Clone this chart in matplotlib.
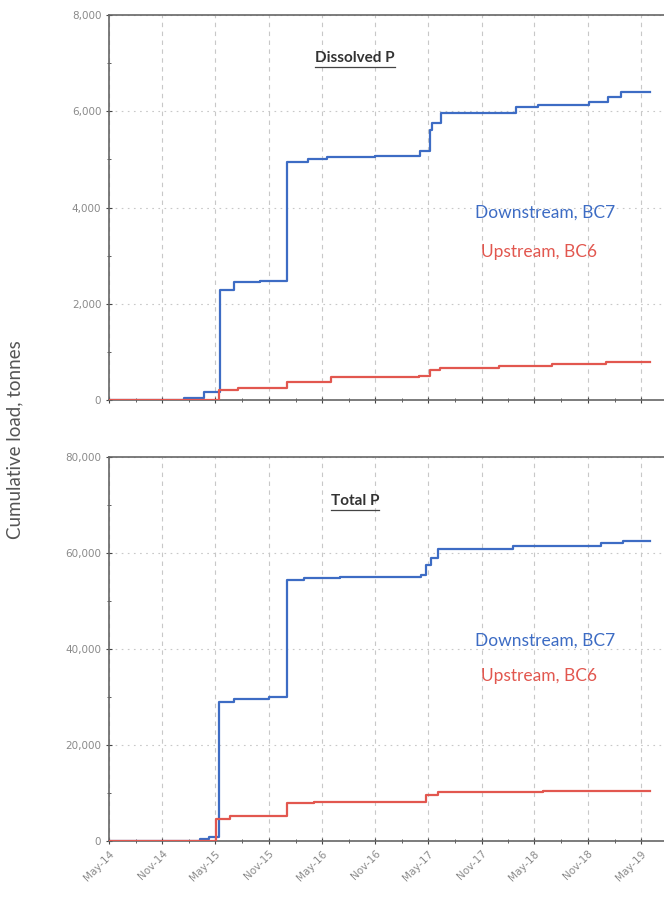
import matplotlib
matplotlib.use('Agg')
import matplotlib.pyplot as plt
import matplotlib.dates as mdates
from matplotlib.ticker import FuncFormatter, MultipleLocator
import numpy as np
import pandas as pd

# ---------- 累积负荷数据（吨） ----------
dp_down_dates = ['2014-05-01', '2015-01-15', '2015-03-22', '2015-05-16', '2015-07-05',
                 '2015-10-01', '2016-01-04', '2016-03-16', '2016-05-19', '2016-11-01',
                 '2017-04-02', '2017-05-06', '2017-05-15', '2017-06-16', '2018-02-27',
                 '2018-05-15', '2018-11-03', '2019-01-10', '2019-02-21', '2019-06-01']
dp_down_vals = [0, 40, 170, 2290, 2450, 2480, 4950, 5000, 5050, 5080,
                5170, 5610, 5750, 5960, 6090, 6130, 6200, 6300, 6400, 6400]

dp_up_dates = ['2014-05-01', '2015-05-13', '2015-07-18', '2016-01-04', '2016-06-01',
               '2017-04-01', '2017-05-06', '2017-06-10', '2018-01-01', '2018-07-01',
               '2019-01-01', '2019-06-01']
dp_up_vals = [0, 210, 250, 375, 480, 500, 620, 665, 700, 740, 790, 790]

tp_down_dates = ['2014-05-01', '2015-03-10', '2015-04-10', '2015-05-13', '2015-07-05',
                 '2015-11-01', '2016-01-04', '2016-03-01', '2016-07-01', '2017-04-05',
                 '2017-04-25', '2017-05-10', '2017-06-03', '2018-02-15', '2018-12-16',
                 '2019-03-01', '2019-06-01']
tp_down_vals = [0, 500, 800, 29000, 29500, 30000, 54300, 54700, 55000, 55500,
                57500, 59000, 60800, 61400, 62000, 62500, 62500]

tp_up_dates = ['2014-05-01', '2015-05-04', '2015-06-20', '2016-01-04', '2016-04-03',
               '2017-04-25', '2017-06-03', '2018-06-01', '2019-06-01']
tp_up_vals = [0, 4600, 5200, 7900, 8100, 9600, 10200, 10500, 10500]

panel_titles = ['Dissolved P', 'Total P']
series_labels = ['Downstream, BC7', 'Upstream, BC6']
y_max = [8000, 80000]

BLUE = '#3d6cc4'
RED = '#e2574f'
GRID = '#c8c8c8'
TXT = '#8a8a8a'

fig = plt.figure(figsize=(6.64, 9.15), dpi=100)
ax_top = fig.add_axes([0.164, 0.5628, 0.836, 0.4208])
ax_bot = fig.add_axes([0.164, 0.0809, 0.836, 0.4197])

panels = [
    (ax_top, dp_down_dates, dp_down_vals, dp_up_dates, dp_up_vals, 0.486, 0.384),
    (ax_bot, tp_down_dates, tp_down_vals, tp_up_dates, tp_up_vals, 0.523, 0.430),
]

for i, (ax, dd, dv, ud, uv, ly1, ly2) in enumerate(panels):
    ax.step(pd.to_datetime(dd), dv, where='post', color=BLUE, lw=1.6, zorder=3)
    ax.step(pd.to_datetime(ud), uv, where='post', color=RED, lw=1.6, zorder=4)

    ax.set_xlim(pd.Timestamp('2014-05-01'), pd.Timestamp('2019-07-20'))
    ax.set_ylim(0, y_max[i])
    ax.yaxis.set_major_locator(MultipleLocator(y_max[i] / 4))
    ax.yaxis.set_minor_locator(MultipleLocator(y_max[i] / 8))
    ax.yaxis.set_major_formatter(FuncFormatter(lambda v, p: f'{v:,.0f}'))

    ax.xaxis.set_major_locator(mdates.MonthLocator(bymonth=[5, 11]))
    ax.xaxis.set_minor_locator(mdates.MonthLocator(bymonth=[2, 8]))
    ax.xaxis.set_major_formatter(mdates.DateFormatter('%b-%y'))

    ax.grid(True, which='major', axis='x', color=GRID, ls=(0, (4, 4)), lw=0.8)
    ax.grid(True, which='major', axis='y', color=GRID, ls=(0, (1.5, 4)), lw=0.8)

    ax.tick_params(which='both', direction='inout', color='#444', labelcolor=TXT,
                   labelsize=7.5)
    ax.tick_params(which='major', length=4)
    ax.tick_params(which='minor', length=3)

    for side in ['left', 'bottom', 'top']:
        ax.spines[side].set_color('#666')
        ax.spines[side].set_linewidth(1.2)
    ax.spines['right'].set_visible(False)

    # 系列标签
    ax.text(0.66, ly1, series_labels[0], transform=ax.transAxes, color=BLUE,
            fontsize=12.5, family='Lato', ha='left', va='center')
    ax.text(0.67, ly2, series_labels[1], transform=ax.transAxes, color=RED,
            fontsize=12.5, family='Lato', ha='left', va='center')

ax_top.tick_params(axis='x', labelbottom=False)
for lab in ax_bot.get_xticklabels():
    lab.set_rotation(45)
    lab.set_ha('right')
    lab.set_rotation_mode('anchor')

# 带下划线的面板标题
titles = []
for ax, t, ty in [(ax_top, panel_titles[0], 0.888), (ax_bot, panel_titles[1], 0.885)]:
    titles.append((ax, ax.text(0.443, ty, t, transform=ax.transAxes, color='#333',
                               fontsize=11, family='Lato', weight='bold',
                               ha='center', va='center')))

fig.text(0.022, 0.519, 'Cumulative load, tonnes', rotation=90, ha='center', va='center',
         color='#555', fontsize=13.5, family='Lato')

fig.canvas.draw()
renderer = fig.canvas.get_renderer()
for ax, txt in titles:
    bb = txt.get_window_extent(renderer).transformed(fig.transFigure.inverted())
    fig.add_artist(plt.Line2D([bb.x0, bb.x1], [bb.y0 - 0.002, bb.y0 - 0.002],
                              transform=fig.transFigure, color='#444', lw=0.9))

fig.savefig('out.png', dpi=100)
